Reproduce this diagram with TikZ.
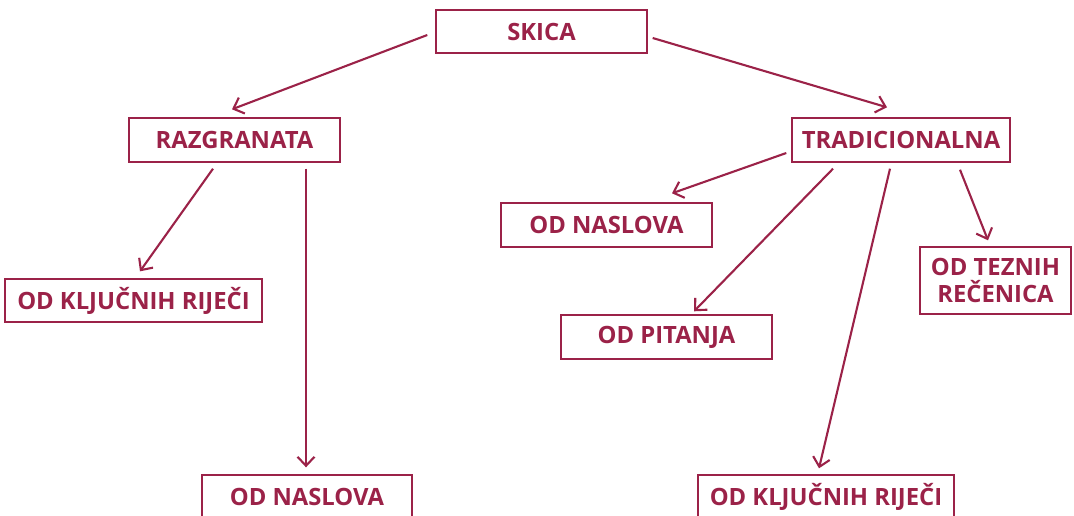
\documentclass[tikz,border=0pt]{standalone}
\usepackage{fontspec}
\setmainfont{Open Sans}
\usetikzlibrary{arrows.meta,calc}
\definecolor{wine}{RGB}{155,34,72}
\begin{document}
\begin{tikzpicture}[x=1pt,y=-1pt,
  box/.style={draw=wine, line width=1.4pt, text=wine, font=\fontsize{23.8}{26}\selectfont\bfseries,
    minimum height=44pt, inner sep=0pt, align=center},
  arr/.style={draw=wine, line width=2.1pt, -{Straight Barb[length=9pt,width=17pt,line width=2.1pt]}}]
\useasboundingbox (0,0) rectangle (1074,515);
\node[box, minimum width=211pt, minimum height=43pt] (skica) at (541.5,31.5) {SKICA};
\node[box, minimum width=211pt] (razg) at (234.5,140) {RAZGRANATA};
\node[box, minimum width=218pt] (trad) at (901,140) {TRADICIONALNA};
\node[box, minimum width=257pt, minimum height=43pt] (lkr) at (133.5,300.5) {OD KLJUČNIH RIJEČI};
\node[box, minimum width=210pt] (lnas) at (307,497) {OD NASLOVA};
\node[box, minimum width=211pt] (rnas) at (606.5,225) {OD NASLOVA};
\node[box, minimum width=211pt] (pit) at (666.5,337) {OD PITANJA};
\node[box, minimum width=256pt] (rkr) at (826,497) {OD KLJUČNIH RIJEČI};
\node[box, minimum width=151pt, minimum height=67pt, font=\fontsize{23.8}{27}\selectfont\bfseries] (tez) at (995.5,280.5) {OD TEZNIH\\REČENICA};
% connectors
\draw[arr] ($(skica.west)+(-8,3.5)$) -- ($(razg.north)+(-2.5,-8)$);
\draw[arr] ($(skica.east)+(5,6.5)$) -- ($(trad.north)+(-14,-10)$);
\draw[arr] ($(razg.south)+(-21.5,6)$) -- ($(lkr.north)+(6.5,-7)$);
\draw[arr] ($(razg.south)+(71.5,6)$) -- ($(lnas.north)+(-1,-7)$);
\draw[arr] ($(trad.west)+(-5,13)$) -- ($(rnas.north)+(65.5,-9)$);
\draw[arr] ($(trad.south)+(-68,6)$) -- ($(pit.north)+(27.5,-3)$);
\draw[arr] ($(trad.south)+(-11,6)$) -- ($(rkr.north)+(-7,-6)$);
\draw[arr] ($(trad.south)+(59,7)$) -- ($(tez.north)+(-7.5,-6)$);
\end{tikzpicture}
\end{document}
